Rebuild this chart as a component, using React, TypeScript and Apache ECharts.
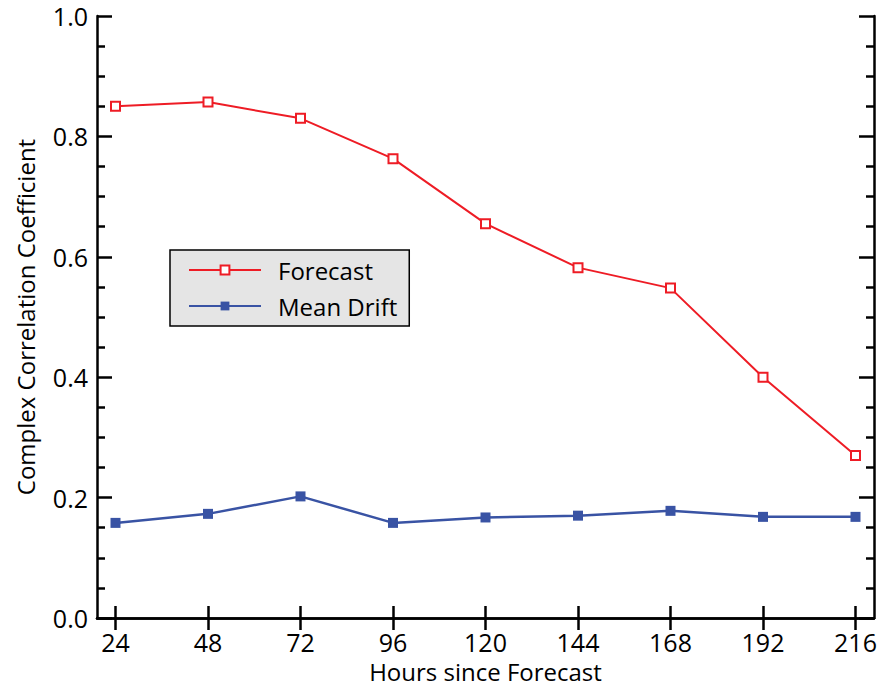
import React, { useEffect, useRef } from "react";
import * as echarts from "echarts";

const hours = [24, 48, 72, 96, 120, 144, 168, 192, 216];
const forecast = [0.85, 0.857, 0.83, 0.763, 0.655, 0.582, 0.548, 0.4, 0.27];
const meanDrift = [0.158, 0.173, 0.202, 0.158, 0.167, 0.17, 0.178, 0.168, 0.168];
const yTicks = [0, 0.2, 0.4, 0.6, 0.8, 1.0];

const FONT = "Open Sans";

export default function App() {
  const ref = useRef<HTMLDivElement>(null);
  useEffect(() => {
    if (!ref.current) return;
    const chart = echarts.init(ref.current, null, { renderer: "svg" });
    const axisLine = { show: true, lineStyle: { color: "#000", width: 2.5 } };
    const xBase = {
      type: "value" as const,
      min: 19.2,
      max: 220.8,
      splitLine: { show: false },
      axisLine,
    };
    const yBase = {
      type: "value" as const,
      min: 0,
      max: 1,
      interval: 0.2,
      splitLine: { show: false },
      axisLine,
      axisTick: { show: true, inside: true, length: 15, lineStyle: { color: "#000", width: 2.5 } },
      minorTick: { show: true, splitNumber: 4, length: 8, lineStyle: { color: "#000", width: 2.5 } },
    };
    chart.setOption({
      animation: false,
      backgroundColor: "#fff",
      grid: { left: 97, top: 16, right: 6, bottom: 69, containLabel: false, outerBoundsMode: "none" },
      legend: {
        show: true,
        orient: "vertical",
        left: 170,
        top: 250,
        backgroundColor: "#e5e5e5",
        borderColor: "#000",
        borderWidth: 1.5,
        borderRadius: 0,
        padding: [8, 12, 8, 18],
        itemGap: 12,
        itemWidth: 72,
        itemHeight: 11,
        textStyle: { fontFamily: FONT, fontSize: 24, color: "#000", padding: [0, 0, 0, 12] },
        data: ["Forecast", "Mean Drift"],
      },
      xAxis: [
        {
          ...xBase,
          position: "bottom",
          name: "Hours since Forecast",
          nameLocation: "middle",
          nameGap: 43,
          nameTextStyle: { fontFamily: FONT, fontSize: 24, lineHeight: 20, color: "#000" },
          axisTick: {
            show: true,
            inside: true,
            length: 12,
            customValues: hours,
            lineStyle: { color: "#000", width: 2.5 },
          },
          axisLabel: {
            show: true,
            customValues: hours,
            margin: 14,
            fontFamily: FONT,
            fontSize: 25,
            lineHeight: 20,
            color: "#000",
          },
        },
        {
          ...xBase,
          position: "top",
          axisTick: {
            show: true,
            inside: true,
            length: 12,
            customValues: hours,
            lineStyle: { color: "#000", width: 2.5 },
          },
          axisLabel: { show: false },
        },
      ],
      yAxis: [
        {
          ...yBase,
          position: "left",
          name: "Complex Correlation Coefficient",
          nameLocation: "middle",
          nameGap: 60,
          nameTextStyle: { fontFamily: FONT, fontSize: 24, color: "#000" },
          axisLabel: {
            show: true,
            margin: 9,
            fontFamily: FONT,
            fontSize: 25,
            color: "#000",
            formatter: (v: number) => (yTicks.some((t) => Math.abs(t - v) < 1e-9) ? v.toFixed(1) : ""),
          },
        },
        {
          ...yBase,
          position: "right",
          axisLabel: { show: false },
        },
      ],
      series: [
        {
          name: "Forecast",
          type: "line",
          data: hours.map((h, i) => [h, forecast[i]]),
          symbol: "rect",
          symbolSize: 9,
          itemStyle: { color: "#fff", borderColor: "#ee1c25", borderWidth: 2 },
          lineStyle: { color: "#ee1c25", width: 2 },
          color: "#ee1c25",
        },
        {
          name: "Mean Drift",
          type: "line",
          data: hours.map((h, i) => [h, meanDrift[i]]),
          symbol: "rect",
          symbolSize: 10,
          itemStyle: { color: "#3953a4" },
          lineStyle: { color: "#3953a4", width: 2.5 },
          color: "#3953a4",
        },
      ],
    });
    return () => chart.dispose();
  }, []);
  return <div ref={ref} style={{ width: 880, height: 687, position: "absolute", left: 0, top: 0 }} />;
}
